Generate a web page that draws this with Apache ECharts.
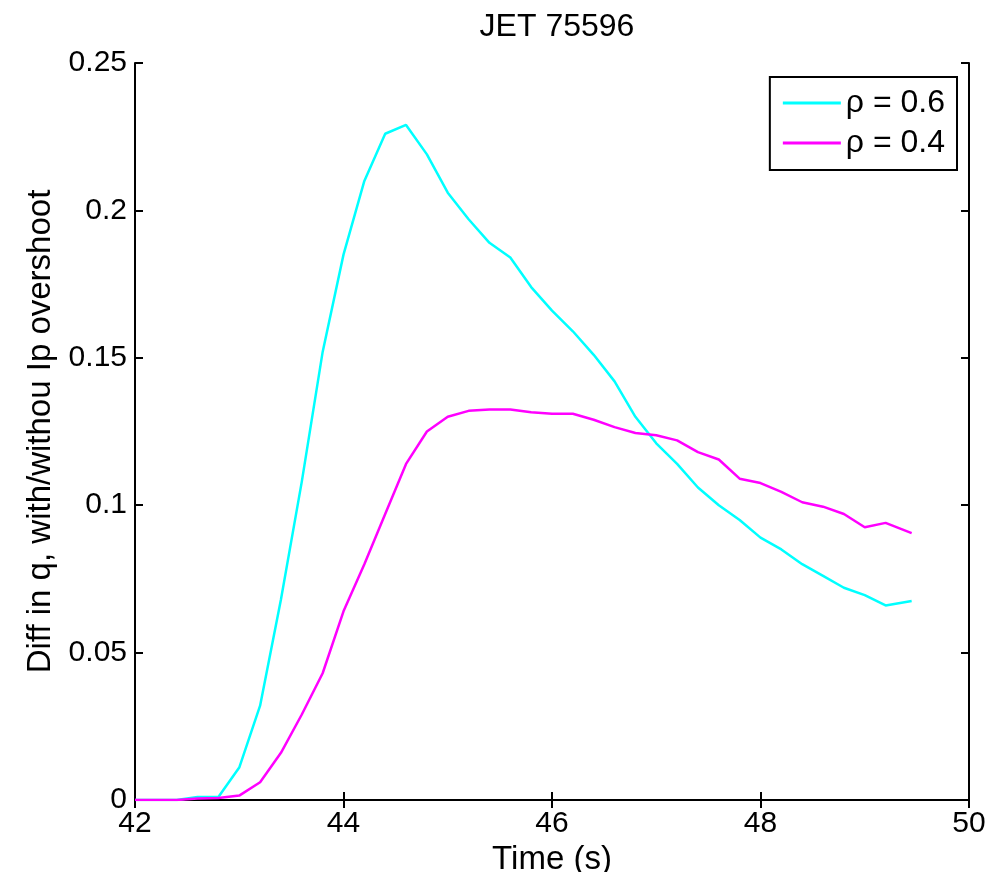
<!DOCTYPE html>
<html>
<head>
<meta charset="utf-8">
<script src="https://cdn.jsdelivr.net/npm/echarts@6/dist/echarts.min.js"></script>
<style>html,body{margin:0;padding:0;background:#fff}#c{width:1004px;height:872px}</style>
</head>
<body>
<div id="c"></div>
<script>
var times = [42.0,42.2,42.4,42.6,42.8,43.0,43.2,43.4,43.6,43.8,44.0,44.2,44.4,44.6,44.8,45.0,45.2,45.4,45.6,45.8,46.0,46.2,46.4,46.6,46.8,47.0,47.2,47.4,47.6,47.8,48.0,48.2,48.4,48.6,48.8,49.0,49.2,49.45];
var rho06 = [0,0,0,0.001,0.001,0.011,0.032,0.068,0.108,0.152,0.185,0.210,0.226,0.229,0.219,0.206,0.197,0.189,0.184,0.174,0.166,0.159,0.151,0.142,0.130,0.121,0.114,0.106,0.100,0.095,0.089,0.085,0.080,0.076,0.072,0.0695,0.066,0.0675];
var rho04 = [0,0,0,0.0005,0.0007,0.0015,0.006,0.016,0.029,0.043,0.064,0.080,0.097,0.114,0.125,0.130,0.132,0.1325,0.1325,0.1315,0.131,0.131,0.129,0.1265,0.1245,0.1237,0.122,0.118,0.1155,0.109,0.1075,0.1045,0.101,0.0995,0.097,0.0925,0.094,0.0905];
var xTicks = [42,44,46,48,50];
var yTicks = [0,0.05,0.1,0.15,0.2,0.25];
var seriesNames = ['\u03c1 = 0.6','\u03c1 = 0.4'];

function pairs(v){ return times.map(function(t,i){ return [t, v[i]]; }); }

var font = 'Liberation Sans, Arial, sans-serif';
var chart = echarts.init(document.getElementById('c'));
var axisLine = {show:true, lineStyle:{color:'#000', width:2}};
var tick = {show:true, inside:true, length:8, lineStyle:{color:'#000', width:2}};
chart.setOption({
  animation:false,
  backgroundColor:'#fff',
  title:{text:'JET 75596', left:552, textAlign:'center', top:6, textStyle:{fontFamily:font, fontSize:32, fontWeight:'normal', color:'#000'}},
  grid:{left:135, top:63, right:35, bottom:72, containLabel:false, outerBoundsMode:'none'},
  legend:{
    orient:'vertical', right:47, top:77,
    data:seriesNames,
    icon:'rect', itemWidth:58, itemHeight:3, itemGap:6,
    borderColor:'#000', borderWidth:2, padding:[9,12,10,13],
    backgroundColor:'#fff',
    textStyle:{fontFamily:font, fontSize:32, color:'#000', lineHeight:34}
  },
  xAxis:[
    {type:'value', min:xTicks[0], max:xTicks[xTicks.length-1], interval:2, position:'bottom',
     name:'Time (s)', nameLocation:'middle', nameGap:36,
     nameTextStyle:{fontFamily:font, fontSize:33, color:'#000'},
     axisLine:axisLine, axisTick:tick, splitLine:{show:false},
     axisLabel:{fontFamily:font, fontSize:30, color:'#000', margin:9}},
    {type:'value', min:xTicks[0], max:xTicks[xTicks.length-1], interval:2, position:'top',
     axisLine:axisLine, axisTick:tick, splitLine:{show:false}, axisLabel:{show:false}}
  ],
  yAxis:[
    {type:'value', min:yTicks[0], max:yTicks[yTicks.length-1], interval:0.05, position:'left',
     name:'Diff in q, with/withou Ip overshoot', nameLocation:'middle', nameGap:73,
     nameTextStyle:{fontFamily:font, fontSize:33, color:'#000'},
     axisLine:axisLine, axisTick:tick, splitLine:{show:false},
     axisLabel:{fontFamily:font, fontSize:30, color:'#000', margin:8}},
    {type:'value', min:yTicks[0], max:yTicks[yTicks.length-1], interval:0.05, position:'right',
     axisLine:axisLine, axisTick:tick, splitLine:{show:false}, axisLabel:{show:false}}
  ],
  series:[
    {name:seriesNames[0], type:'line', data:pairs(rho06), symbol:'none', lineStyle:{color:'#00ffff', width:2.5}, itemStyle:{color:'#00ffff'}},
    {name:seriesNames[1], type:'line', data:pairs(rho04), symbol:'none', lineStyle:{color:'#ff00ff', width:2.5}, itemStyle:{color:'#ff00ff'}}
  ]
});
</script>
</body>
</html>
